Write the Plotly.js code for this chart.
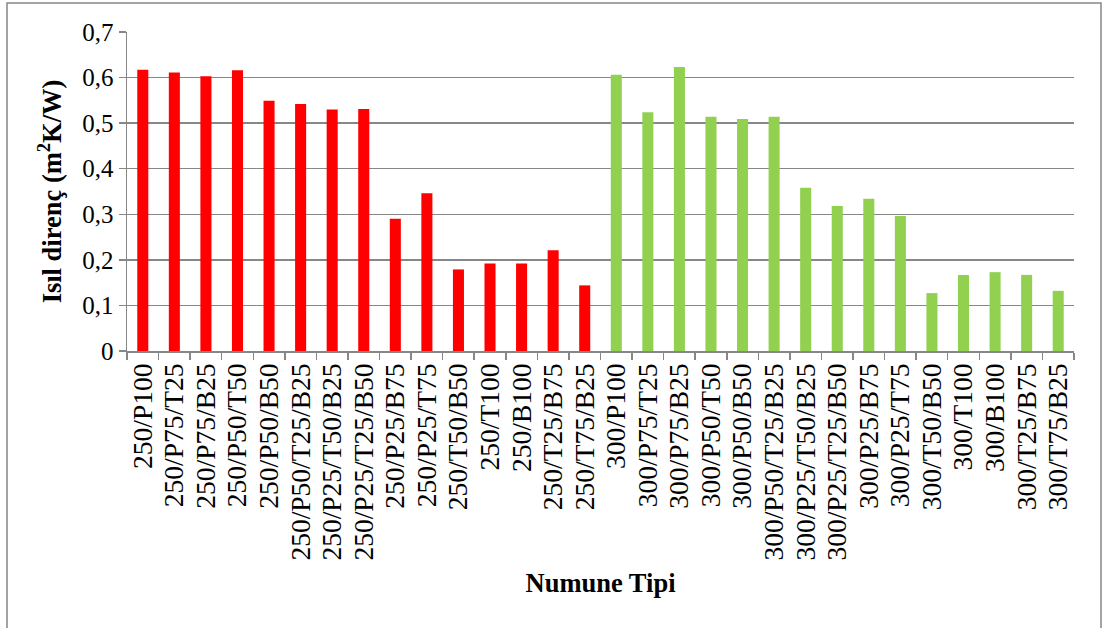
<!DOCTYPE html>
<html>
<head>
<meta charset="utf-8">
<script src="https://cdn.plot.ly/plotly-3.0.1.min.js"></script>
<style>
  html, body { margin: 0; padding: 0; background: #ffffff; }
  #chart { width: 1105px; height: 628px; }
</style>
</head>
<body>
<div id="chart"></div>
<script>
// Sample types, 250 series
const types250 = [
  '250/P100', '250/P75/T25', '250/P75/B25', '250/P50/T50', '250/P50/B50',
  '250/P50/T25/B25', '250/P25/T50/B25', '250/P25/T25/B50', '250/P25/B75',
  '250/P25/T75', '250/T50/B50', '250/T100', '250/B100', '250/T25/B75', '250/T75/B25'
];
// Thermal resistance (m2K/W), 250 series
const values250 = [
  0.617, 0.611, 0.603, 0.616, 0.549,
  0.542, 0.530, 0.531, 0.290,
  0.346, 0.179, 0.192, 0.192, 0.221, 0.144
];

// Sample types, 300 series
const types300 = [
  '300/P100', '300/P75/T25', '300/P75/B25', '300/P50/T50', '300/P50/B50',
  '300/P50/T25/B25', '300/P25/T50/B25', '300/P25/T25/B50', '300/P25/B75',
  '300/P25/T75', '300/T50/B50', '300/T100', '300/B100', '300/T25/B75', '300/T75/B25'
];
// Thermal resistance (m2K/W), 300 series
const values300 = [
  0.606, 0.524, 0.623, 0.514, 0.509,
  0.514, 0.358, 0.318, 0.334,
  0.296, 0.127, 0.167, 0.173, 0.167, 0.132
];

const allTypes = types250.concat(types300);

const serif = 'Liberation Serif, Times New Roman, serif';
const gray = '#878787';

const traces = [
  {
    type: 'bar',
    name: '250',
    x: types250,
    y: values250,
    marker: { color: '#ff0000' },
    hoverinfo: 'x+y'
  },
  {
    type: 'bar',
    name: '300',
    x: types300,
    y: values300,
    marker: { color: '#92d050' },
    hoverinfo: 'x+y'
  }
];

const L = 127, R = 31, T = 32, B = 277;
const plotW = 1105 - L - R, plotH = 628 - T - B;

const layout = {
  width: 1105,
  height: 628,
  margin: { l: L, r: R, t: T, b: B, pad: 0 },
  paper_bgcolor: '#ffffff',
  plot_bgcolor: '#ffffff',
  separators: ',.',
  showlegend: false,
  barmode: 'overlay',
  bargap: 0.65,
  font: { family: serif, size: 25, color: '#000000' },
  xaxis: {
    type: 'category',
    categoryorder: 'array',
    categoryarray: allTypes,
    tickmode: 'linear',
    tick0: 0,
    dtick: 1,
    tickangle: -90,
    tickson: 'boundaries',
    ticks: 'outside',
    ticklen: 7,
    tickwidth: 1.5,
    tickcolor: gray,
    showline: true,
    linecolor: gray,
    linewidth: 1.5,
    showgrid: false,
    automargin: false,
    tickfont: { family: serif, size: 27.5, color: '#000000' },
    title: {
      text: '<b>Numune Tipi</b>',
      font: { family: serif, size: 26.5, color: '#000000' },
      standoff: 14
    }
  },
  yaxis: {
    range: [0, 0.7],
    dtick: 0.1,
    ticks: 'outside',
    ticklen: 7,
    tickwidth: 1.5,
    tickcolor: gray,
    showline: true,
    linecolor: gray,
    linewidth: 1.5,
    showgrid: true,
    gridcolor: gray,
    gridwidth: 1.5,
    zeroline: false,
    automargin: false,
    tickfont: { family: serif, size: 25, color: '#000000' },
    title: {
      text: '<b>Isıl direnç (m<sup>2</sup>K/W)</b>',
      font: { family: serif, size: 26.5, color: '#000000' },
      standoff: 13
    }
  },
  shapes: [
    {
      type: 'rect',
      xref: 'paper', yref: 'paper',
      x0: (7 - L) / plotW, x1: (1101 - L) / plotW,
      y0: (T + plotH - 660) / plotH, y1: (T + plotH - 3) / plotH,
      line: { color: gray, width: 1.5 },
      fillcolor: 'rgba(0,0,0,0)',
      layer: 'below'
    }
  ]
};

Plotly.newPlot('chart', traces, layout, { displayModeBar: false, staticPlot: true });
</script>
</body>
</html>
